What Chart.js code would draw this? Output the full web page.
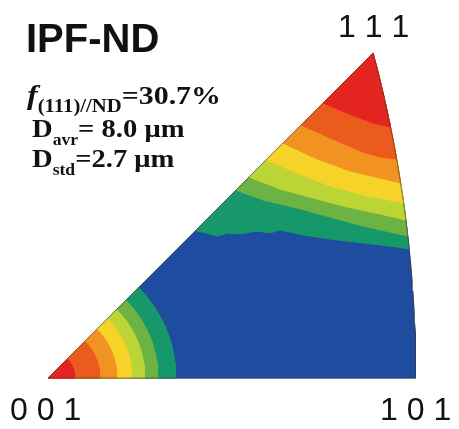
<!DOCTYPE html>
<html>
<head>
<meta charset="utf-8">
<script src="https://cdn.jsdelivr.net/npm/chart.js"></script>
<style>
  body { margin: 0; background: #fff; }
  #wrap { position: relative; width: 459px; height: 429px; overflow: hidden; }
  #ipf { position: absolute; left: 0; top: 0; }
  .title { position: absolute; font: bold 40px/40px "Liberation Sans", Arial, sans-serif; color: #111; }
  .pole { position: absolute; font: 32px/32px "Liberation Sans", Arial, sans-serif; color: #111; white-space: pre; }
  .stat { position: absolute; font: bold 26px/26px "Liberation Serif", "Times New Roman", serif; color: #111;
          white-space: pre; transform: scaleX(1.1); transform-origin: 0 0; }
  .stat.first { transform: scaleX(1.15); }
  .stat i { font-size: 28px; }
  .sub { font-size: 16px; vertical-align: -8px; }
  .sub.big { font-size: 18px; }
</style>
</head>
<body>
<div id="wrap">
  <canvas id="ipf" width="459" height="429"></canvas>
  <div class="title" style="left:26px;top:18px">IPF-ND</div>
  <div class="pole" id="p111" style="left:338px;top:10px"></div>
  <div class="pole" id="p001" style="left:10px;top:393px"></div>
  <div class="pole" id="p101" style="left:380px;top:393px"></div>
  <div class="stat first" style="left:27px;top:82px"><i>f</i><span class="sub big">(111)//ND</span>=30.7%</div>
  <div class="stat" style="left:32px;top:116px">D<span class="sub">avr</span>= 8.0 μm</div>
  <div class="stat" style="left:32px;top:146px">D<span class="sub">std</span>=2.7 μm</div>
</div>
<script>
// stereographic coords: 001 at (0,0), 101 at (0.4142,0), 111 at (0.366,0.366)
const poleLabels = ['0 0 1', '1 0 1', '1 1 1'];
const bandColors = ['#e42421', '#ea5b1d', '#f29321', '#f6d328', '#bad535', '#6db343', '#17986b', '#1e4c9f'];

// outer radius of each band around 001 (red -> teal)
const radii001 = [0.0304, 0.0586, 0.0777, 0.0946, 0.1092, 0.1239, 0.1441];

// lower edge of each band around 111, from the 001-111 side to the 101-111 side
const redEdge = [[0.3097, 0.3097], [0.3288, 0.3018], [0.3480, 0.2939], [0.3660, 0.2872], [0.3857, 0.2827]];
const orangeRedEdge = [[0.2849, 0.2849], [0.3176, 0.2703], [0.3547, 0.2545], [0.3739, 0.2489], [0.3926, 0.2466]];
const orangeEdge = [[0.2646, 0.2646], [0.3007, 0.2477], [0.3401, 0.2331], [0.3739, 0.2252], [0.3971, 0.2196]];
const yellowEdge = [[0.2455, 0.2455], [0.2804, 0.2309], [0.3176, 0.2162], [0.3547, 0.2061], [0.4004, 0.1971]];
const yellowGreenEdge = [[0.2264, 0.2264], [0.2613, 0.2128], [0.2984, 0.2027], [0.3367, 0.1926], [0.3739, 0.1847], [0.4030, 0.1779]];
const greenEdge = [[0.2117, 0.2117], [0.2421, 0.2005], [0.2804, 0.1914], [0.3176, 0.1813], [0.3547, 0.1712], [0.4051, 0.1599]];
const tealEdge = [[0.1660, 0.1660], [0.1779, 0.1633], [0.1903, 0.1599], [0.2027, 0.1633], [0.2162, 0.1622], [0.2354, 0.1655],
  [0.2500, 0.1633], [0.2613, 0.1667], [0.2725, 0.1644], [0.2872, 0.1610], [0.3176, 0.1565], [0.3547, 0.1520],
  [0.3930, 0.1475], [0.4067, 0.1453]];

const edges111 = [redEdge, orangeRedEdge, orangeEdge, yellowEdge, yellowGreenEdge, greenEdge, tealEdge];

document.getElementById('p001').textContent = poleLabels[0];
document.getElementById('p101').textContent = poleLabels[1];
document.getElementById('p111').textContent = poleLabels[2];

const Y111 = (1 / Math.sqrt(3)) / (1 + 1 / Math.sqrt(3));

// 101-111 boundary is the great circle (x+1)^2 + y^2 = 2
function arcUp(fromY, n) {
  const pts = [];
  for (let j = 1; j <= n; j++) {
    const y = fromY + (Y111 - fromY) * j / n;
    pts.push({x: Math.sqrt(2 - y * y) - 1, y: y});
  }
  return pts;
}

function sector(r, n) {
  const pts = [{x: 0, y: 0}];
  for (let j = 0; j <= n; j++) {
    const a = Math.PI / 4 * j / n;
    pts.push({x: r * Math.cos(a), y: r * Math.sin(a)});
  }
  return pts;
}

const triangle = [{x: 0, y: 0}, {x: Math.SQRT2 - 1, y: 0}].concat(arcUp(0, 30));

const datasets = [];
function addShape(points, color) {
  datasets.push({
    data: points,
    fill: 'shape',
    backgroundColor: color,
    borderColor: color,
    borderWidth: 1,
    pointRadius: 0,
    tension: 0
  });
}

addShape(triangle, bandColors[7]);
for (let i = edges111.length - 1; i >= 0; i--) {
  const e = edges111[i];
  const pts = e.map(p => ({x: p[0], y: p[1]}));
  addShape(pts.concat(arcUp(e[e.length - 1][1], 20)), bandColors[i]);
}
for (let i = radii001.length - 1; i >= 0; i--) {
  addShape(sector(radii001[i], 30), bandColors[i]);
}
// outline on top
datasets.push({
  data: triangle.concat([{x: 0, y: 0}]),
  fill: false,
  borderColor: 'rgba(70,40,40,0.55)',
  borderWidth: 1,
  pointRadius: 0,
  tension: 0
});
datasets.forEach((d, i) => { d.order = -i; });

new Chart(document.getElementById('ipf'), {
  type: 'line',
  data: {datasets: datasets},
  options: {
    responsive: false,
    animation: false,
    layout: {padding: 0},
    plugins: {legend: {display: false}, tooltip: {enabled: false}},
    scales: {
      x: {type: 'linear', display: false, min: -0.054054, max: 0.462838},
      y: {type: 'linear', display: false, min: -0.057432, max: 0.425676}
    }
  }
});
</script>
</body>
</html>
